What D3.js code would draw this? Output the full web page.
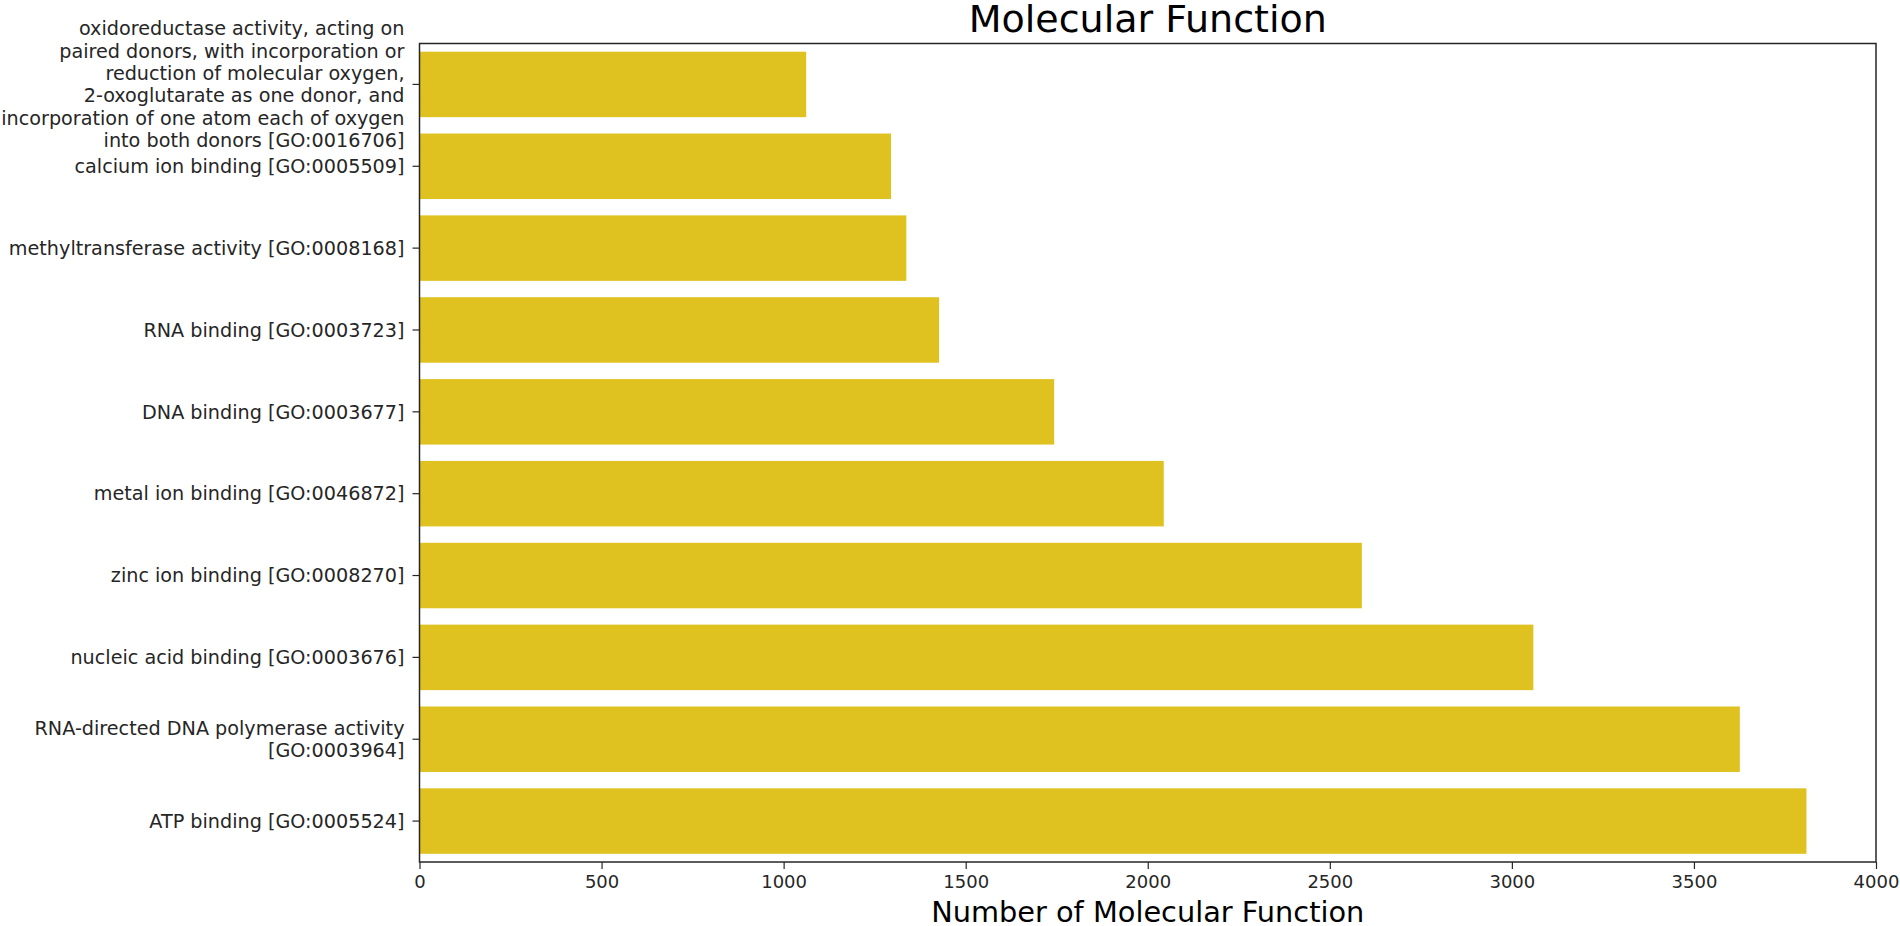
<!DOCTYPE html>
<html>
<head>
<meta charset="utf-8">
<script src="https://cdn.jsdelivr.net/npm/d3@7"></script>
<style>
  body { margin: 0; background: #fff; }
  svg text { font-family: "DejaVu Sans", sans-serif; }
</style>
</head>
<body>
<div id="chart"></div>
<script>
// Molecular Function bar chart

// data
var categories = [
  "oxidoreductase activity, acting on\npaired donors, with incorporation or\nreduction of molecular oxygen,\n2-oxoglutarate as one donor, and\nincorporation of one atom each of oxygen\ninto both donors [GO:0016706]",
  "calcium ion binding [GO:0005509]",
  "methyltransferase activity [GO:0008168]",
  "RNA binding [GO:0003723]",
  "DNA binding [GO:0003677]",
  "metal ion binding [GO:0046872]",
  "zinc ion binding [GO:0008270]",
  "nucleic acid binding [GO:0003676]",
  "RNA-directed DNA polymerase activity\n[GO:0003964]",
  "ATP binding [GO:0005524]"
];
var counts = [1062, 1295, 1337, 1427, 1743, 2044, 2588, 3059, 3626, 3809];
var xTicks = [0, 500, 1000, 1500, 2000, 2500, 3000, 3500, 4000];

var svgWidth = 1900;
var svgHeight = 926;

var margin = { top: 43.5, right: 24, bottom: 64, left: 419.5 };
var width = svgWidth - margin.left - margin.right;
var height = svgHeight - margin.top - margin.bottom;

var svg = d3.select("#chart")
  .append("svg")
  .attr("width", svgWidth)
  .attr("height", svgHeight);

var chartGroup = svg.append("g")
  .attr("transform", `translate(${margin.left}, ${margin.top})`);

// scales
var xLinearScale = d3.scaleLinear()
  .domain([0, 4000])
  .range([0, width]);

var yBandScale = d3.scaleBand()
  .domain(categories)
  .range([0, height])
  .paddingInner(0.2)
  .paddingOuter(0.1);

// bars
chartGroup.selectAll("rect.bar")
  .data(counts)
  .enter()
  .append("rect")
  .attr("class", "bar")
  .attr("x", 0)
  .attr("y", (d, i) => yBandScale(categories[i]))
  .attr("width", d => xLinearScale(d))
  .attr("height", yBandScale.bandwidth())
  .attr("fill", "#dfc220");

// axes
var bottomAxis = d3.axisBottom(xLinearScale)
  .tickValues(xTicks)
  .tickSizeInner(7)
  .tickSizeOuter(0)
  .tickPadding(6)
  .tickFormat(d3.format("d"));

var leftAxis = d3.axisLeft(yBandScale)
  .tickSizeInner(7)
  .tickSizeOuter(0)
  .tickPadding(8);

var xAxisG = chartGroup.append("g")
  .attr("transform", `translate(0, ${height})`)
  .call(bottomAxis);

var yAxisG = chartGroup.append("g")
  .call(leftAxis);

[xAxisG, yAxisG].forEach(function(g) {
  g.select(".domain").remove();
  g.selectAll(".tick line").attr("stroke", "#262626").attr("stroke-width", 1.2);
  g.selectAll(".tick text")
    .attr("fill", "#262626")
    .style("font-size", "18px")
    .style("font-family", "DejaVu Sans");
});

// multi-line y labels
var lineHeight = 22.3;
yAxisG.selectAll(".tick text").each(function(d) {
  var lines = d.split("\n");
  var t = d3.select(this);
  t.text(null).attr("dy", null).style("font-size", "19.2px");
  lines.forEach(function(line, k) {
    t.append("tspan")
      .attr("x", -15)
      .attr("y", (k - (lines.length - 1) / 2) * lineHeight)
      .attr("dy", "0.35em")
      .text(line);
  });
});

// frame
chartGroup.append("rect")
  .attr("x", 0)
  .attr("y", 0)
  .attr("width", width)
  .attr("height", height)
  .attr("fill", "none")
  .attr("stroke", "#262626")
  .attr("stroke-width", 1.5);

// title and label
svg.append("text")
  .attr("x", margin.left + width / 2)
  .attr("y", 32)
  .attr("text-anchor", "middle")
  .style("font-size", "38px")
  .attr("fill", "#000")
  .text("Molecular Function");

svg.append("text")
  .attr("x", margin.left + width / 2)
  .attr("y", 922)
  .attr("text-anchor", "middle")
  .style("font-size", "28.8px")
  .attr("fill", "#000")
  .text("Number of Molecular Function");
</script>
</body>
</html>
